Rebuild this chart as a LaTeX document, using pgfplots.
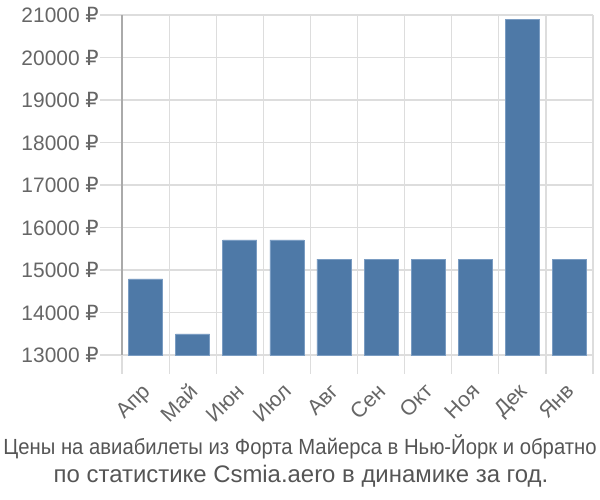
\documentclass[border=0pt]{standalone}
\usepackage{fontspec}
\setmainfont{Liberation Sans}
\newfontfamily\rubfont{DejaVu Sans}
\newcommand\rub{{\rubfont ₽}}
\usepackage{pgfplots}
\pgfplotsset{compat=1.18}
\definecolor{barblue}{HTML}{4E79A7}
\definecolor{baredge}{HTML}{7A9CC2}
\definecolor{gridc}{HTML}{DDDDDD}
\definecolor{axisc}{HTML}{AAAAAA}
\definecolor{labc}{HTML}{666666}
\definecolor{titc}{HTML}{555555}
\begin{document}
\begin{tikzpicture}[x=1bp,y=1bp]
\useasboundingbox (0,0) rectangle (600,500);
\begin{axis}[
  at={(122bp,145bp)}, anchor=south west,
  scale only axis, width=471bp, height=340bp,
  xmin=-0.5, xmax=9.5, ymin=13000, ymax=21000,
  scaled y ticks=false,
  axis x line*=bottom, axis y line*=left,
  x axis line style={draw=gridc, line width=1.2bp, -},
  y axis line style={draw=axisc, line width=1.2bp, -},
  xtick={0,...,9},
  xticklabels={Апр,Май,Июн,Июл,Авг,Сен,Окт,Ноя,Дек,Янв},
  minor xtick={-0.5,0.5,...,9.5},
  xminorgrids, ymajorgrids,
  grid style={draw=gridc, line width=1.2bp},
  minor grid style={draw=gridc, line width=1.2bp},
  major x tick style={draw=none},
  minor x tick style={draw=gridc, line width=1.2bp},
  minor tick length=19bp,
  tick align=outside,
  ytick={13000,14000,...,21000},
  yticklabels={13000 \rub,14000 \rub,15000 \rub,16000 \rub,17000 \rub,18000 \rub,19000 \rub,20000 \rub,21000 \rub},
  y tick style={draw=gridc, line width=1.2bp},
  major tick length=22bp,
  xticklabel style={font=\fontsize{21.5}{25}\selectfont, text=labc, rotate=45, anchor=north east, inner sep=0pt, xshift=-7bp, yshift=0bp},
  yticklabel style={font=\fontsize{21}{25}\selectfont, text=labc, inner sep=0pt, xshift=-1bp},
  /pgf/number format/assume math mode=true,
  clip=false,
]
\addplot[ybar, bar width=34bp, fill=barblue, draw=baredge, line width=0.6bp, bar shift=0pt]
  coordinates {(0,14790) (1,13495) (2,15710) (3,15710) (4,15255) (5,15255) (6,15255) (7,15255) (8,20890) (9,15255)};
\end{axis}
\node[text=titc, font=\fontsize{22}{26}\selectfont, xscale=0.925] at (300,53) {Цены на авиабилеты из Форта Майерса в Нью-Йорк и обратно};
\node[text=titc, font=\fontsize{24}{28}\selectfont] at (301,24) {по статистике Csmia.aero в динамике за год.};
\end{tikzpicture}
\end{document}
